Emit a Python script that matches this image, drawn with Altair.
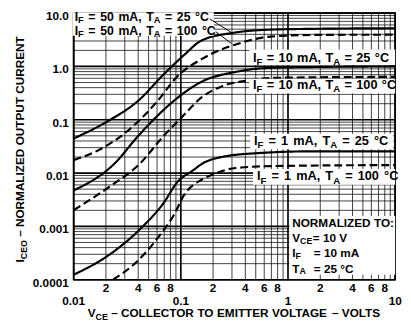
import altair as alt
import pandas as pd

# ---------------- data ----------------
a_x = [0.01, 0.021, 0.0395, 0.0698, 0.1066, 0.156, 0.313, 0.64, 1.77, 10]
a_y = [0.0444, 0.095, 0.222, 0.724, 1.62, 3.06, 4.29, 4.87, 5.08, 5.2]   # IF=50mA TA=25C

b_x = [0.01, 0.0169, 0.032, 0.0603, 0.0918, 0.156, 0.325, 0.683, 1.77, 10]
b_y = [0.0175, 0.0267, 0.0622, 0.222, 0.638, 1.37, 2.58, 3.62, 3.9, 3.94]  # IF=50mA TA=100C

c_x = [0.01, 0.0243, 0.0395, 0.0565, 0.0918, 0.156, 0.325, 0.64, 1.77, 10]
c_y = [0.00471, 0.0154, 0.0483, 0.1035, 0.252, 0.516, 0.789, 0.935, 0.975, 1.0]  # IF=10mA TA=25C

d_x = [0.01, 0.021, 0.042, 0.067, 0.1022, 0.156, 0.237, 0.402, 0.757, 10]
d_y = [0.00202, 0.00535, 0.0154, 0.0463, 0.112, 0.262, 0.418, 0.539, 0.612, 0.638]  # IF=10mA TA=100C

e_x = [0.01, 0.0218, 0.042, 0.0698, 0.0918, 0.1316, 0.156, 0.237, 0.496, 1.77, 10]
e_y = [0.000124, 0.0003, 0.000904, 0.00283, 0.0066, 0.01146, 0.01476, 0.0199, 0.0235, 0.0256, 0.0256]  # IF=1mA TA=25C

f_x = [0.0233, 0.0395, 0.0642, 0.0861, 0.1066, 0.156, 0.205, 0.325, 0.757, 10]
f_y = [0.0001, 0.000224, 0.000701, 0.00163, 0.00381, 0.0075, 0.00967, 0.01247, 0.01355, 0.01415]  # IF=1mA TA=100C

series = [
    ("50mA 25C", "solid", a_x, a_y),
    ("50mA 100C", "dashed", b_x, b_y),
    ("10mA 25C", "solid", c_x, c_y),
    ("10mA 100C", "dashed", d_x, d_y),
    ("1mA 25C", "solid", e_x, e_y),
    ("1mA 100C", "dashed", f_x, f_y),
]

x_major = [0.01, 0.1, 1, 10]
x_minor = [0.02, 0.03, 0.04, 0.05, 0.06, 0.07, 0.08, 0.09,
           0.2, 0.3, 0.4, 0.5, 0.6, 0.7, 0.8, 0.9,
           2, 3, 4, 5, 6, 7, 8, 9]
y_major = [0.0001, 0.001, 0.01, 0.1, 1, 10]
y_minor = [m * d for d in [0.0001, 0.001, 0.01, 0.1, 1] for m in [2, 3, 4, 5, 6, 7, 8, 9]]

y_tick_vals = [10, 1, 0.1, 0.01, 0.001, 0.0001]
y_tick_labels = ["10.0", "1.0", "0.1", "0.01", "0.001", "0.0001"]
x_small_vals = [0.02, 0.04, 0.06, 0.08, 0.2, 0.4, 0.6, 0.8, 2, 4, 6, 8]
x_small_labels = ["2", "4", "6", "8"] * 3
x_big_vals = [0.01, 0.1, 1, 10]
x_big_labels = ["0.01", "0.1", "1", "10"]

# ---------------- layout ----------------
OX, OY = 75, 10          # page position of plot origin
W, H = 328, 272
FONT = "Liberation Sans"

xscale = alt.Scale(type="log", domain=[0.01, 10], nice=False)
yscale = alt.Scale(type="log", domain=[0.0001, 10], nice=False)

rows = []
for name, dash, xs, ys in series:
    for i, (x, y) in enumerate(zip(xs, ys)):
        rows.append({"series": name, "dash": dash, "x": x, "y": y, "o": i})
curves_df = pd.DataFrame(rows)

one = pd.DataFrame({"k": [0]})

# ---------------- grid ----------------
def vgrid(vals, width, color, opacity):
    return alt.Chart(pd.DataFrame({"x": vals})).mark_rule(
        stroke=color, strokeWidth=width, opacity=opacity
    ).encode(x=alt.X("x:Q", scale=xscale, axis=None))

def hgrid(vals, width, color, opacity):
    return alt.Chart(pd.DataFrame({"y": vals})).mark_rule(
        stroke=color, strokeWidth=width, opacity=opacity
    ).encode(y=alt.Y("y:Q", scale=yscale, axis=None))

layers = [
    vgrid(x_minor, 1.0, "#111", 0.8),
    hgrid(y_minor, 1.0, "#111", 0.8),
    vgrid(x_major, 1.7, "#000", 1.0),
    hgrid(y_major, 1.7, "#000", 1.0),
]

curves = alt.Chart(curves_df).mark_line(
    color="black", strokeWidth=2.2, interpolate="monotone", clip=True
).encode(
    x=alt.X("x:Q", scale=xscale, axis=None),
    y=alt.Y("y:Q", scale=yscale, axis=None),
    detail="series:N",
    order="o:Q",
    strokeDash=alt.StrokeDash("dash:N", scale=alt.Scale(domain=["solid", "dashed"],
                                                         range=[[1, 0], [8, 4]]), legend=None),
)
layers.append(curves)

# ---------------- white label boxes ----------------
def box(x1, y1, x2, y2):
    return alt.Chart(one).mark_rect(fill="white", stroke=None).encode(
        x=alt.value(x1 - OX), x2=alt.value(x2 - OX),
        y=alt.value(y1 - OY), y2=alt.value(y2 - OY))

layers += [
    box(74, 9, 218, 33),
    box(254, 47, 403, 63),
    box(254, 77, 403, 92),
    box(255, 133, 401, 149),
    box(258, 169, 403, 185),
    box(295, 217, 403, 277),
]

# leader lines
def seg(x1, y1, x2, y2):
    return alt.Chart(one).mark_rule(color="black", strokeWidth=1).encode(
        x=alt.value(x1 - OX), x2=alt.value(x2 - OX),
        y=alt.value(y1 - OY), y2=alt.value(y2 - OY))

layers += [seg(214, 16, 238, 31), seg(220, 29, 236, 41)]

# ---------------- rich text helper ----------------
WID = {' ': 278, '=': 584, '0': 556, '1': 556, '2': 556, '3': 556, '4': 556, '5': 556,
       '6': 556, '7': 556, '8': 556, '9': 556, '.': 278, ',': 278, ':': 333, '°': 400,
       '–': 556, 'm': 889, 'A': 722, 'C': 722, 'D': 722, 'E': 667, 'F': 611, 'G': 778,
       'I': 278, 'L': 611, 'M': 833, 'N': 722, 'O': 778, 'P': 667, 'R': 722, 'S': 667,
       'T': 611, 'U': 722, 'V': 667, 'Z': 611, 'W': 944, 'H': 722}

def tw(s, size):
    return sum(WID.get(c, 667) for c in s) * size / 1000.0

PIECES = []

def rich(x0, yc, segs, size, space_em=0.278, align="left", angle=0,
         sub_scale=0.75, sub_drop=0.25):
    sub_size = round(size * sub_scale, 1)
    items = []
    pos = 0.0
    for text, sub in segs:
        s = sub_size if sub else size
        word = ""
        for ch in text:
            if ch == " ":
                if word:
                    items.append((word, pos, s, sub))
                    pos += tw(word, s)
                    word = ""
                pos += space_em * size
            else:
                word += ch
        if word:
            items.append((word, pos, s, sub))
            pos += tw(word, s)
    total = pos
    start = {"left": 0.0, "center": -total / 2, "right": -total}[align]
    cap = 0.358 * size
    for word, off, s, sub in items:
        drop = sub_drop * size if sub else 0.0
        if angle == 0:
            px, py = x0 + start + off, yc + cap + drop
        else:
            px, py = x0 + cap + drop, yc - (start + off)
        PIECES.append((word, px - OX, py - OY, s, angle))

CS = 13
SP = 0.34
rich(76, 14, [("I", 0), ("F", 1), (" = 50 mA, T", 0), ("A", 1), (" = 25 °C", 0)], 12.5, 0.38, sub_drop=0.16)
rich(76, 27.5, [("I", 0), ("F", 1), (" = 50 mA, T", 0), ("A", 1), (" = 100 °C", 0)], 12.5, 0.38, sub_drop=0.16)
rich(258, 55, [("I", 0), ("F", 1), (" = 10 mA, T", 0), ("A", 1), (" = 25 °C", 0)], CS, SP)
rich(258, 83, [("I", 0), ("F", 1), (" = 10 mA, T", 0), ("A", 1), (" = 100 °C", 0)], CS, SP)
rich(259, 140, [("I", 0), ("F", 1), (" = 1 mA, T", 0), ("A", 1), (" = 25 °C", 0)], CS, 0.4)
rich(262, 176, [("I", 0), ("F", 1), (" = 1 mA, T", 0), ("A", 1), (" = 100 °C", 0)], CS, 0.4)

NS = 12
rich(298, 224, [("NORMALIZED TO:", 0)], NS)
rich(298, 239.5, [("V", 0), ("CE", 1)], NS, sub_drop=0.15)
rich(319, 239.5, [("= 10 V", 0)], NS)
rich(298, 255, [("I", 0), ("F", 1)], NS, sub_drop=0.15)
rich(320, 255, [("= 10 mA", 0)], NS)
rich(298, 270.5, [("T", 0), ("A", 1)], NS, sub_drop=0.15)
rich(320, 270.5, [("= 25 °C", 0)], NS)

# axis titles
rich(239, 316, [("V", 0), ("CE", 1), (" – COLLECTOR TO EMITTER VOLTAGE – VOLTS", 0)], 12, align="center")
rich(20, 149, [("I", 0), ("CEO", 1), (" – NORMALIZED OUTPUT CURRENT", 0)], 12, align="center", angle=270)

for word, px, py, s, ang in PIECES:
    layers.append(
        alt.Chart(one).mark_text(
            align="left", baseline="alphabetic", font=FONT, fontWeight="bold",
            fontSize=s, angle=ang, color="black"
        ).encode(x=alt.value(px), y=alt.value(py), text=alt.value(word))
    )

# ---------------- tick labels ----------------
ylab = alt.Chart(pd.DataFrame({"v": y_tick_vals, "t": y_tick_labels})).mark_text(
    align="right", baseline="middle", font=FONT, fontWeight="bold", fontSize=12, dy=3, color="black"
).encode(y=alt.Y("v:Q", scale=yscale, axis=None), x=alt.value(-5), text="t:N")

xsmall = alt.Chart(pd.DataFrame({"v": x_small_vals, "t": x_small_labels})).mark_text(
    align="center", baseline="middle", font=FONT, fontWeight="bold", fontSize=12, color="black"
).encode(x=alt.X("v:Q", scale=xscale, axis=None), y=alt.value(291 - OY), text="t:N")

xbig = alt.Chart(pd.DataFrame({"v": x_big_vals, "t": x_big_labels})).mark_text(
    align="center", baseline="middle", font=FONT, fontWeight="bold", fontSize=12, color="black"
).encode(x=alt.X("v:Q", scale=xscale, axis=None), y=alt.value(304 - OY), text="t:N")

layers += [ylab, xsmall, xbig]

chart = alt.layer(*layers).properties(
    width=W, height=H,
    autosize=alt.AutoSizeParams(type="none"),
    padding={"left": OX - 8, "top": OY - 8, "right": 8, "bottom": 44},
    background="white",
).configure_view(stroke="black", strokeWidth=1.6)

chart.save("out.html", embed_options={"renderer": "svg", "actions": False})
